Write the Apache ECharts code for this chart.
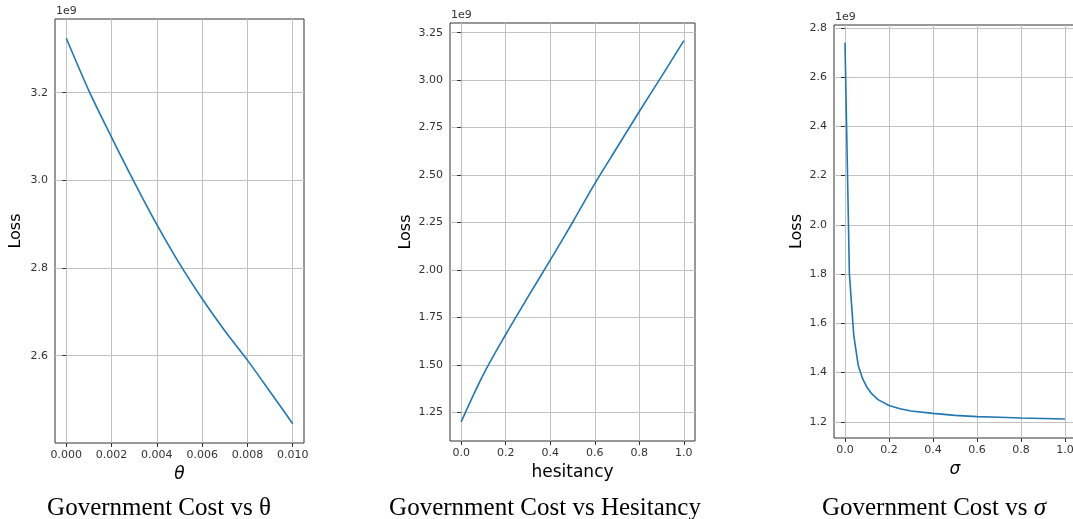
<!DOCTYPE html>
<html>
<head>
<meta charset="utf-8">
<script src="https://cdn.jsdelivr.net/npm/echarts@6/dist/echarts.min.js"></script>
<style>
  html, body { margin: 0; padding: 0; background: #fff; }
  #chart { width: 1073px; height: 519px; }
</style>
</head>
<body>
<div id="chart"></div>
<script>
// Loss (in units of 1e9) against three model parameters

// Panel 1: theta
const thetaValues = [0, 0.001, 0.002, 0.003, 0.004, 0.005, 0.006, 0.007, 0.008, 0.009, 0.010];
const thetaLoss = [3.324, 3.204, 3.098, 2.996, 2.899, 2.810, 2.730, 2.657, 2.590, 2.518, 2.445];
const thetaTicks = [0, 0.002, 0.004, 0.006, 0.008, 0.010];
const thetaLossTicks = [2.6, 2.8, 3.0, 3.2];

// Panel 2: hesitancy
const hesitancyValues = [0, 0.1, 0.2, 0.3, 0.4, 0.5, 0.6, 0.7, 0.8, 0.9, 1.0];
const hesitancyLoss = [1.200, 1.450, 1.660, 1.858, 2.052, 2.250, 2.455, 2.645, 2.835, 3.020, 3.208];
const hesitancyTicks = [0, 0.2, 0.4, 0.6, 0.8, 1.0];
const hesitancyLossTicks = [1.25, 1.5, 1.75, 2.0, 2.25, 2.5, 2.75, 3.0, 3.25];

// Panel 3: sigma
const sigmaValues = [0, 0.02, 0.04, 0.06, 0.08, 0.1, 0.12, 0.15, 0.2, 0.25, 0.3, 0.4, 0.5, 0.6, 0.7, 0.8, 0.9, 1.0];
const sigmaLoss = [2.740, 1.800, 1.550, 1.430, 1.375, 1.340, 1.315, 1.290, 1.266, 1.253, 1.244, 1.234, 1.226, 1.221, 1.218, 1.215, 1.213, 1.211];
const sigmaTicks = [0, 0.2, 0.4, 0.6, 0.8, 1.0];
const sigmaLossTicks = [1.2, 1.4, 1.6, 1.8, 2.0, 2.2, 2.4, 2.6, 2.8];

const captions = ['Government Cost vs θ', 'Government Cost vs Hesitancy', 'Government Cost vs '];

const FONT = 'DejaVu Sans';
const SPINE = '#333333';
const GRIDLINE = '#c2c2c2';
const LINE = '#1f77b4';
const LABEL = '#333333';

const panels = [
  { box: { left: 55, top: 19, width: 249, height: 424 },
    xMin: -0.0005, xMax: 0.0105, yMin: 2.401, yMax: 3.368,
    xTicks: thetaTicks, yTicks: thetaLossTicks, xDec: 3, yDec: 1,
    xName: 'θ', xItalic: true, yGap: 31, smooth: 0.3, xs: thetaValues, ys: thetaLoss },
  { box: { left: 450, top: 23, width: 245, height: 418 },
    xMin: -0.05, xMax: 1.05, yMin: 1.099, yMax: 3.301,
    xTicks: hesitancyTicks, yTicks: hesitancyLossTicks, xDec: 1, yDec: 2,
    xName: 'hesitancy', xItalic: false, yGap: 36, smooth: 0.3, xs: hesitancyValues, ys: hesitancyLoss },
  { box: { left: 834, top: 25, width: 242, height: 413 },
    xMin: -0.05, xMax: 1.05, yMin: 1.134, yMax: 2.812,
    xTicks: sigmaTicks, yTicks: sigmaLossTicks, xDec: 1, yDec: 1,
    xName: 'σ', xItalic: true, yGap: 29, smooth: false, xs: sigmaValues, ys: sigmaLoss }
];

const grid = [], xAxis = [], yAxis = [], series = [], graphic = [];

panels.forEach((p, i) => {
  grid.push(Object.assign({
    show: true, borderColor: SPINE, borderWidth: 1, backgroundColor: 'transparent',
    containLabel: false, outerBoundsMode: 'none'
  }, p.box));
  xAxis.push({
    type: 'value', gridIndex: i, min: p.xMin, max: p.xMax,
    name: p.xName, nameLocation: 'middle', nameGap: 15,
    nameTextStyle: { fontFamily: FONT, fontSize: 17, color: '#000',
                     fontStyle: p.xItalic ? 'italic' : 'normal' },
    axisLine: { show: false },
    axisTick: { show: true, inside: false, length: 4, customValues: p.xTicks,
                lineStyle: { color: SPINE, width: 1 } },
    axisLabel: { customValues: p.xTicks, margin: 7, fontFamily: FONT, fontSize: 11, color: LABEL,
                 formatter: v => v.toFixed(p.xDec) },
    splitLine: { show: true, lineStyle: { color: GRIDLINE, width: 1 } }
  });
  yAxis.push({
    type: 'value', gridIndex: i, min: p.yMin, max: p.yMax,
    name: 'Loss', nameLocation: 'middle', nameGap: p.yGap, nameRotate: 90,
    nameTextStyle: { fontFamily: FONT, fontSize: 16, color: '#000' },
    axisLine: { show: false },
    axisTick: { show: true, inside: false, length: 4, customValues: p.yTicks,
                lineStyle: { color: SPINE, width: 1 } },
    axisLabel: { customValues: p.yTicks, margin: 7, fontFamily: FONT, fontSize: 11, color: LABEL,
                 formatter: v => v.toFixed(p.yDec) },
    splitLine: { show: true, lineStyle: { color: GRIDLINE, width: 1 } }
  });
  series.push({
    type: 'line', xAxisIndex: i, yAxisIndex: i,
    data: p.xs.map((x, k) => [x, p.ys[k]]),
    showSymbol: false, smooth: p.smooth, clip: false,
    lineStyle: { color: LINE, width: 1.6 }
  });
  // exponent marker above each plot
  graphic.push({
    type: 'text', left: p.box.left + 1, top: p.box.top - 13,
    style: { text: '1e9', font: '11px "DejaVu Sans"', fill: LABEL }
  });
});

// captions beneath the panels
const captionCenters = [159, 545, 934];
captionCenters.forEach((cx, i) => {
  const rich = {
    a: { fontFamily: 'Liberation Serif', fontSize: 25, fill: '#000' },
    b: { fontFamily: 'Liberation Serif', fontSize: 25, fontStyle: 'italic', fill: '#000' }
  };
  const text = i === 2 ? '{a|' + captions[i] + '}{b|σ}' : '{a|' + captions[i] + '}';
  graphic.push({
    type: 'text', x: cx, y: 508,
    style: { text: text, rich: rich, align: 'center', verticalAlign: 'middle' }
  });
});

const chart = echarts.init(document.getElementById('chart'), null, { renderer: 'canvas' });
chart.setOption({
  backgroundColor: '#ffffff',
  animation: false,
  grid, xAxis, yAxis, series, graphic
});
</script>
</body>
</html>
